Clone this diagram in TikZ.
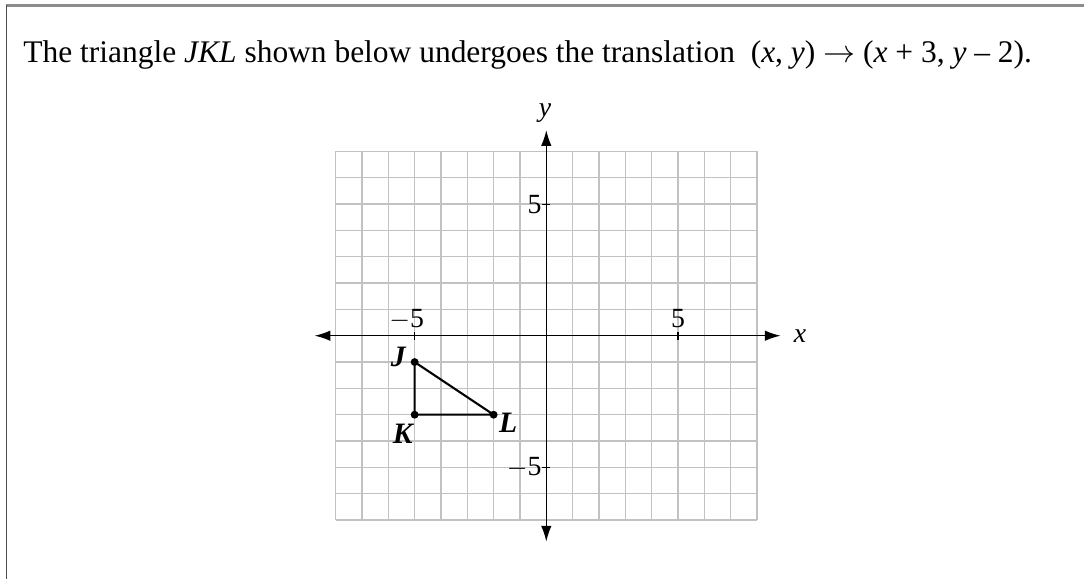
\documentclass[tikz,border=0pt]{standalone}
\usepackage{fontspec}
\setmainfont{Liberation Serif}
\usetikzlibrary{arrows.meta}

\begin{document}
\begin{tikzpicture}[x=0.5cm,y=0.5cm,
        gridline/.style={color=black!24, line width=0.8pt, step=1},
        axis/.style={line width=0.8pt, {Latex[length=3mm,width=2mm]}-{Latex[length=3mm,width=2mm]}},
        tick/.style={line width=0.6pt},
        ticklabel/.style={font=\fontsize{15}{16}\selectfont, inner sep=1pt},
        ptlabel/.style={font=\fontsize{16}{17}\selectfont\bfseries\itshape, inner sep=1pt},
        tri/.style={line width=1.1pt}]
        \useasboundingbox (-20.748,-9.24) rectangle (20.421,12.75);
        % frame
        \draw[color=black!45, line width=1.1pt] (-20.501,12.541) -- (20.421,12.541);
        \draw[color=black!70, line width=0.8pt] (-20.501,12.541) -- (-20.501,-9.24);
        \node[anchor=base west, inner sep=0pt, font=\fontsize{17}{18}\selectfont] (question) at (-19.87,10.39)
            {The triangle \textit{JKL} shown below undergoes the translation \ (\textit{x}, \textit{y}) $\rightarrow$ (\textit{x} + 3, \textit{y} -- 2).};

        \draw[gridline] (-8,-7) grid (8,7);
        \coordinate (xl) at (-8.8,0); \coordinate (xr) at (8.9,0);
        \coordinate (yb) at (0,-7.82); \coordinate (yt) at (0,7.81);
        \draw[axis] (xl) -- (xr); \draw[axis] (yb) -- (yt);
        \node[font=\fontsize{15}{16}\selectfont\itshape, anchor=west] (xlab) at (9.15,0) {x};
        \node[font=\fontsize{15}{16}\selectfont\itshape] (ylab) at (-0.05,8.45) {y};

        \draw[tick] (-5,-0.15) -- (-5,0.15); \draw[tick] (5,-0.15) -- (5,0.15);
        \draw[tick] (-0.15,5) -- (0.15,5); \draw[tick] (-0.15,-5) -- (0.15,-5);
        \node[ticklabel] (xm5) at (-5.3,0.62) {$-$5};
        \node[ticklabel] (xp5) at (5,0.64) {5};
        \node[ticklabel, anchor=east] (yp5) at (-0.1,5) {5};
        \node[ticklabel, anchor=east] (ym5) at (-0.1,-5) {$-$5};

        \coordinate (J) at (-5,-1); \coordinate (K) at (-5,-3); \coordinate (L) at (-2,-3);
        \draw[tri] (J) -- (K) -- (L) -- cycle;
        \foreach \p in {J,K,L} \fill (\p) circle (0.15);
        \node[ptlabel] (Jlab) at (-5.62,-0.8) {J};
        \node[ptlabel] (Klab) at (-5.45,-3.72) {K};
        \node[ptlabel] (Llab) at (-1.45,-3.3) {L};
    \end{tikzpicture}
\end{document}
